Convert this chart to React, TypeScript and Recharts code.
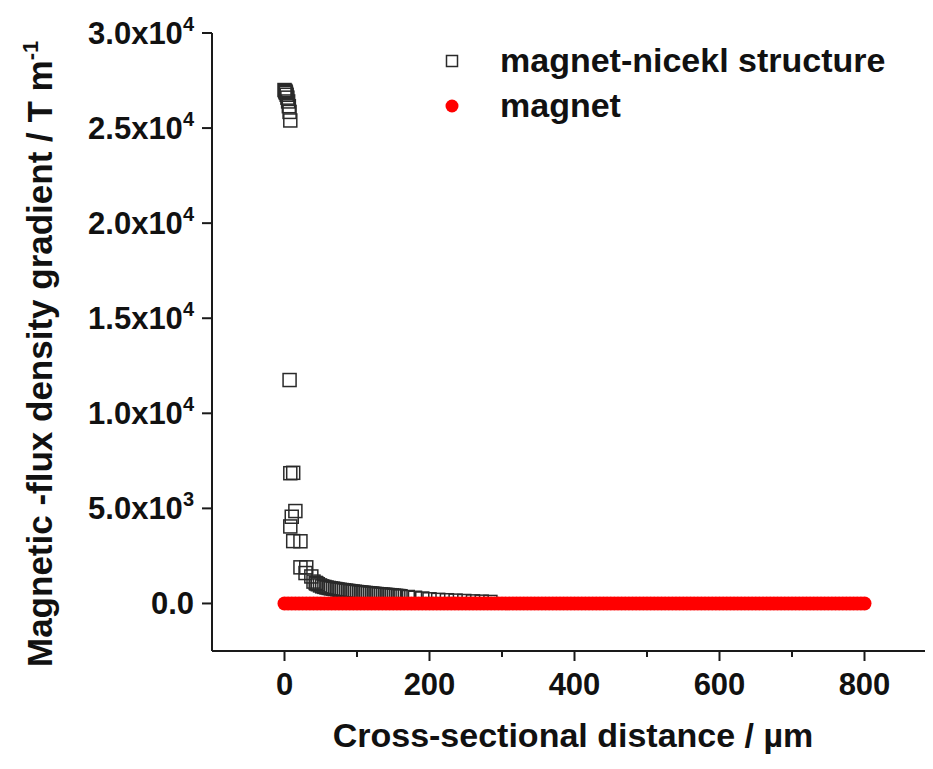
import { ScatterChart, Scatter, XAxis, YAxis } from "recharts";

const FONT = "'Liberation Sans', Arial, sans-serif";

// magnet-nickel structure: distance (µm) / gradient (T m^-1)
const NICKEL_X = [
  0, 1, 1.5, 2, 3, 4, 5, 6, 7, 8,
  7, 8, 12, 15, 10, 8, 12, 22, 22, 30, 29, 37, 44,
  40, 43, 46, 49, 52, 55, 58, 61, 64, 67, 70, 73, 76, 79, 82, 85, 88, 91, 94, 97,
  100, 103, 106, 109, 112, 115, 118, 121, 124, 127, 130, 133, 136, 139, 142, 145,
  148, 151, 154, 157, 160,
  170, 180, 190, 200, 212, 224, 236, 248, 260, 272, 284,
];
const NICKEL_Y = [
  27000, 26950, 26900, 26850, 26750, 26600, 26400, 26150, 25850, 25400,
  11750, 6850, 6870, 4860, 4560, 4050, 3280, 3270, 1900, 1900, 1600, 1420, 1050,
  1150, 1080, 1010, 950, 900, 870, 840, 815, 795, 780, 760, 740, 720, 705, 690, 675, 660, 645, 630, 615,
  600, 590, 575, 565, 550, 540, 530, 520, 505, 495, 485, 475, 465, 455, 445, 435,
  425, 410, 400, 390, 380,
  340, 300, 260, 220, 190, 170, 150, 130, 110, 95, 80,
];

// magnet alone: gradient stays at 0 over the whole cross-section
const MAGNET_X = [
  0, 5, 10, 15, 20, 25, 30, 35, 40, 45, 50, 55, 60, 65, 70, 75, 80, 85, 90, 95,
  100, 105, 110, 115, 120, 125, 130, 135, 140, 145, 150, 155, 160, 165, 170, 175,
  180, 185, 190, 195, 200, 205, 210, 215, 220, 225, 230, 235, 240, 245, 250, 255,
  260, 265, 270, 275, 280, 285, 290, 295, 300, 305, 310, 315, 320, 325, 330, 335,
  340, 345, 350, 355, 360, 365, 370, 375, 380, 385, 390, 395, 400, 405, 410, 415,
  420, 425, 430, 435, 440, 445, 450, 455, 460, 465, 470, 475, 480, 485, 490, 495,
  500, 505, 510, 515, 520, 525, 530, 535, 540, 545, 550, 555, 560, 565, 570, 575,
  580, 585, 590, 595, 600, 605, 610, 615, 620, 625, 630, 635, 640, 645, 650, 655,
  660, 665, 670, 675, 680, 685, 690, 695, 700, 705, 710, 715, 720, 725, 730, 735,
  740, 745, 750, 755, 760, 765, 770, 775, 780, 785, 790, 795, 800,
];
const MAGNET_VALUE = 0;

const X_TICKS = [0, 100, 200, 300, 400, 500, 600, 700, 800];
const X_LABELED = [0, 200, 400, 600, 800];
const Y_TICKS = [0, 5000, 10000, 15000, 20000, 25000, 30000];
const Y_MANTISSA = ["0.0", "5.0x10", "1.0x10", "1.5x10", "2.0x10", "2.5x10", "3.0x10"];
const Y_EXPONENT = ["", "3", "4", "4", "4", "4", "4"];

const SERIES_NAMES = ["magnet-nicekl structure", "magnet"];

const nickelData = NICKEL_X.map((x, i) => ({ x, y: NICKEL_Y[i] }));
const magnetData = MAGNET_X.map((x) => ({ x, y: MAGNET_VALUE }));

const AXIS_COLOR = "#1a1a1a";
const SQUARE_COLOR = "#2a2a2a";

const SquareShape = (props: any) => (
  <rect
    x={props.cx - 6.5}
    y={props.cy - 6.5}
    width={13}
    height={13}
    fill="none"
    stroke={SQUARE_COLOR}
    strokeWidth={1.5}
  />
);

const DotShape = (props: any) => <circle cx={props.cx} cy={props.cy} r={7} fill="#ff0000" />;

const XTick = (props: any) => {
  const { x, y, payload } = props;
  const labeled = X_LABELED.includes(payload.value);
  return (
    <g>
      <line x1={x} x2={x} y1={y} y2={y + (labeled ? 10 : 6)} stroke={AXIS_COLOR} strokeWidth={2} />
      {labeled && (
        <text x={x} y={y + 44} textAnchor="middle" fontFamily={FONT} fontWeight="bold" fontSize={31} fill="#111">
          {payload.value}
        </text>
      )}
    </g>
  );
};

const YTick = (props: any) => {
  const { x, y, payload } = props;
  const i = Y_TICKS.indexOf(payload.value);
  return (
    <g>
      <line x1={x - 10} x2={x} y1={y} y2={y} stroke={AXIS_COLOR} strokeWidth={2} />
      <text x={x - 18} y={y + 11} textAnchor="end" fontFamily={FONT} fontWeight="bold" fontSize={31} fill="#111">
        {Y_MANTISSA[i]}
        {Y_EXPONENT[i] && (
          <tspan fontSize={20} dy={-13}>
            {Y_EXPONENT[i]}
          </tspan>
        )}
      </text>
    </g>
  );
};

// legend drawn as an overlay so it does not take space from the plot
const ChartLegend = () => (
  <div
    style={{
      position: "absolute",
      top: 30,
      left: 430,
      fontFamily: FONT,
      fontWeight: "bold",
      fontSize: 34,
      color: "#111",
    }}
  >
    {SERIES_NAMES.map((name, i) => (
      <div key={name} style={{ display: "flex", alignItems: "center", height: 45, whiteSpace: "nowrap" }}>
        <svg width={28} height={28} style={{ marginRight: 34 }}>
          {i === 0 ? (
            <rect x={8.5} y={8.5} width={11} height={11} fill="none" stroke={SQUARE_COLOR} strokeWidth={1.5} />
          ) : (
            <circle cx={14} cy={14} r={6.5} fill="#ff0000" />
          )}
        </svg>
        <span>{name}</span>
      </div>
    ))}
  </div>
);

export default function App() {
  return (
    <div style={{ position: "relative", width: 925, height: 761, overflow: "hidden" }}>
      <ScatterChart width={929} height={761} margin={{ top: 25, right: 0, bottom: 0, left: 0 }}>
        <XAxis
          type="number"
          dataKey="x"
          domain={[-100, 900]}
          ticks={X_TICKS}
          tick={XTick}
          tickSize={0}
          tickMargin={0}
          height={118}
          axisLine={{ stroke: AXIS_COLOR, strokeWidth: 2 }}
          label={{
            content: () => (
              <text x={565} y={739} textAnchor="middle" fontFamily={FONT} fontWeight="bold" fontSize={34} fill="#111">
                Cross-sectional distance / µm
              </text>
            ),
          }}
        />
        <YAxis
          type="number"
          dataKey="y"
          domain={[-2500, 30000]}
          ticks={Y_TICKS}
          tick={YTick}
          tickSize={0}
          tickMargin={0}
          width={204}
          axisLine={{ stroke: AXIS_COLOR, strokeWidth: 2 }}
          label={{
            content: () => (
              <text
                x={44}
                y={659}
                transform="rotate(-90, 44, 659)"
                textAnchor="start"
                fontFamily={FONT}
                fontWeight="bold"
                fontSize={35}
                fill="#111"
              >
                Magnetic -flux density gradient / T m
                <tspan fontSize={22} dy={-14}>
                  -1
                </tspan>
              </text>
            ),
          }}
        />
        <Scatter name={SERIES_NAMES[0]} data={nickelData} shape={SquareShape} isAnimationActive={false} />
        <Scatter name={SERIES_NAMES[1]} data={magnetData} shape={DotShape} isAnimationActive={false} />
      </ScatterChart>
      <ChartLegend />
    </div>
  );
}
